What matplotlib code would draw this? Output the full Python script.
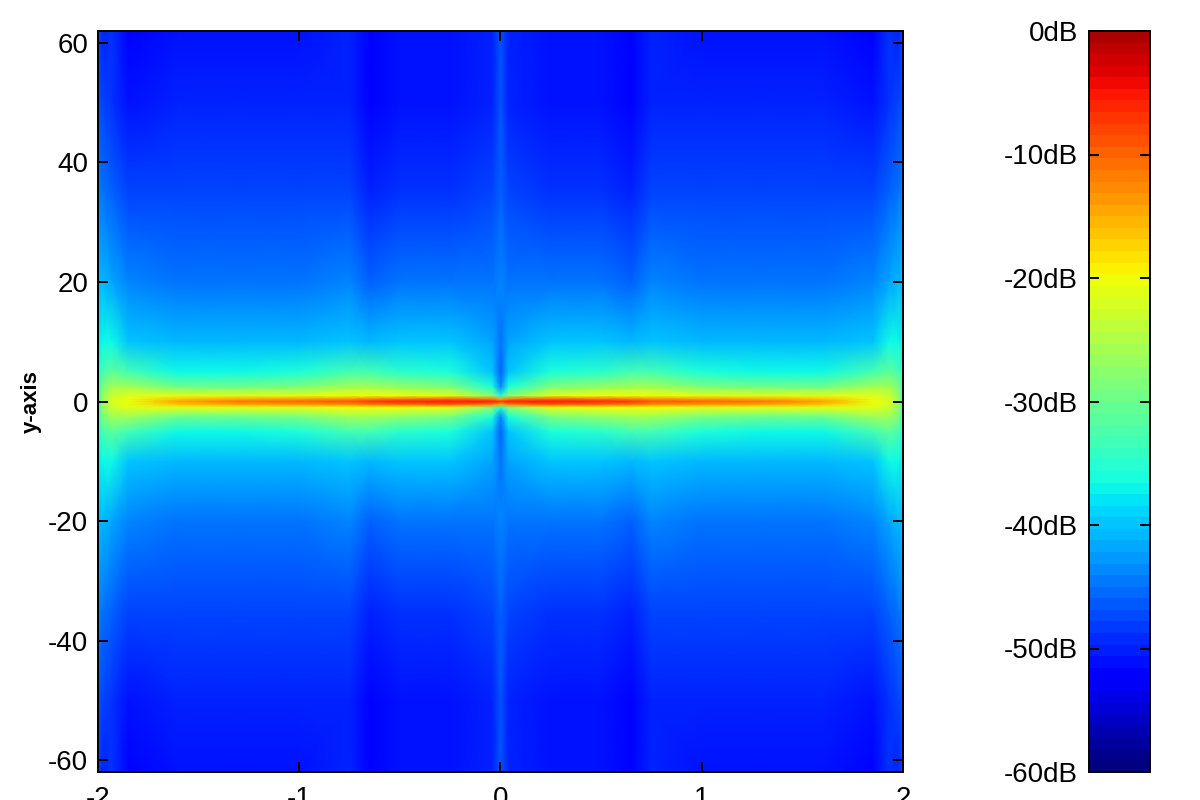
import numpy as np
import matplotlib
matplotlib.use('Agg')
import matplotlib.pyplot as plt
from matplotlib.colors import ListedColormap

plt.rcParams['font.family'] = ['Liberation Sans', 'DejaVu Sans']
plt.rcParams['axes.unicode_minus'] = False

# coarse dB levels, left half (the picture is mirror symmetric)
x_left = [-2, -1.98, -1.93, -1.85, -1.6, -1.3, -1, -0.75, -0.65, -0.5, -0.25, -0.04, 0]
y_top = [62, 50, 35, 20, 10, 5, 2.5, 1, 0.4, 0]
row_62 = [-47, -50, -49, -52, -51, -51, -51, -50, -52, -51, -51, -50, -47]
row_50 = [-47, -48, -49, -51, -50, -50, -50, -50, -52, -51, -51, -50, -47]
row_35 = [-44, -45, -46, -48, -48, -48, -48, -48, -50, -49, -49, -48, -46]
row_20 = [-41, -41, -42, -44, -45, -45, -45, -44, -46, -45, -45, -45, -44]
row_10 = [-38, -37, -37, -40, -41, -41, -41, -40, -41, -40, -40, -42, -45]
row_5 = [-36, -33, -31, -33, -37, -37, -36, -33, -33, -35, -36, -40, -46]
row_25 = [-36, -29, -26, -26, -30, -30, -29, -26, -26, -27, -29, -36, -44]
row_1 = [-36, -27, -23, -21, -21, -21, -21, -20, -20, -20, -21, -28, -36]
row_04 = [-36, -27, -22, -21, -16, -14, -13, -12, -11, -10, -9, -11, -14]
row_0 = [-36, -26, -22, -20, -14, -11, -10, -9, -7, -6, -5, -5, -6]
db_rows = [row_62, row_50, row_35, row_20, row_10, row_5, row_25, row_1, row_04, row_0]

x_ticks = [-2, -1, 0, 1, 2]
y_ticks = [-60, -40, -20, 0, 20, 40, 60]
cbar_ticks = [0, -10, -20, -30, -40, -50, -60]
cbar_labels = ['0dB', '-10dB', '-20dB', '-30dB', '-40dB', '-50dB', '-60dB']

x = np.array(x_left + [-v for v in x_left[-2::-1]])
y = np.array([-v for v in y_top] + y_top[-2::-1])
half = np.array(db_rows)
half = np.hstack([half, half[:, -2::-1]])
db = np.vstack([half, half[-2::-1]])

fig = plt.figure(figsize=(12, 8), dpi=100)
W, H = 1200.0, 800.0
ax = fig.add_axes([98 / W, 1 - 772 / H, 805 / W, 741 / H])
cax = fig.add_axes([1089 / W, 1 - 772 / H, 61 / W, 741 / H])

# jet, but the top stops at a lighter red as in the reference
jet = plt.get_cmap('jet')
cmap = ListedColormap(jet(np.linspace(0, 0.96, 64)))
smooth = ListedColormap(jet(np.linspace(0, 0.96, 256)))

mesh = ax.pcolormesh(x, y, db, cmap=smooth, vmin=-60, vmax=0, shading='gouraud')
ax.set_xlim(-2, 2)
ax.set_ylim(-62, 62)
ax.set_xticks(x_ticks)
ax.set_yticks(y_ticks)
ax.tick_params(direction='in', length=7, width=1.4, labelsize=20, top=True, right=True, pad=7)
ax.tick_params(axis='x', pad=10)
for s in ax.spines.values():
    s.set_linewidth(1.4)
ax.set_ylabel('y-axis', fontsize=16, fontweight='bold')
ax.yaxis.set_label_coords(-0.07, 0.5)

sm = plt.cm.ScalarMappable(norm=plt.Normalize(-60, 0), cmap=cmap)
cb = fig.colorbar(sm, cax=cax)
cb.ax.yaxis.set_ticks_position('left')
cb.set_ticks(cbar_ticks)
cb.set_ticklabels(cbar_labels)
cax.tick_params(direction='in', length=7, width=1.4, labelsize=20, left=True, right=True, pad=8)
cb.outline.set_linewidth(1.4)

fig.savefig('out.png', dpi=100)
